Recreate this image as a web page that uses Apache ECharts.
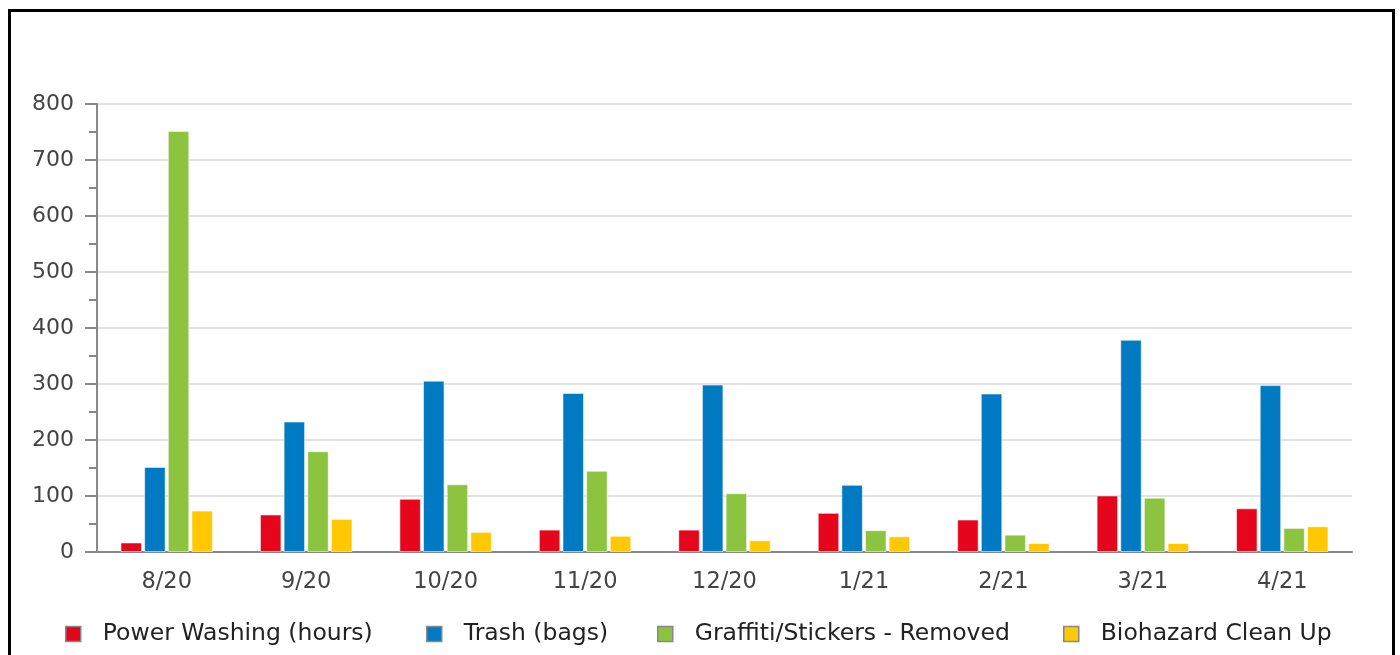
<!DOCTYPE html>
<html>
<head>
<meta charset="utf-8">
<script src="https://cdn.jsdelivr.net/npm/echarts@6/dist/echarts.min.js"></script>
<style>
html,body{margin:0;padding:0;background:#fff;}
#chart{width:1400px;height:655px;}
</style>
</head>
<body>
<div id="chart"></div>
<script>
const categories = ['8/20','9/20','10/20','11/20','12/20','1/21','2/21','3/21','4/21'];
const powerWashing = [17, 67, 95, 40, 40, 70, 58, 101, 78];
const trash = [152, 233, 306, 284, 299, 120, 283, 379, 298];
const graffiti = [752, 180, 121, 145, 105, 39, 31, 97, 43];
const biohazard = [74, 59, 36, 29, 21, 28, 16, 16, 46];
const seriesNames = ['Power Washing (hours)', 'Trash (bags)', 'Graffiti/Stickers - Removed', 'Biohazard Clean Up'];
const seriesColors = ['#E5061B', '#007AC3', '#8CC43F', '#FFC800'];
const yTicks = {min: 0, max: 800, interval: 100};

const chart = echarts.init(document.getElementById('chart'));
const FONT = 'DejaVu Sans';
const dataSets = [powerWashing, trash, graffiti, biohazard];
const legendLefts = [65, 426, 657, 1063];

chart.setOption({
  animation: false,
  textStyle: {fontFamily: FONT},
  graphic: [{
    type: 'rect',
    shape: {x: 9.5, y: 10.5, width: 1384, height: 700},
    style: {fill: 'none', stroke: '#000', lineWidth: 3},
    silent: true, z: 100
  }],
  grid: {left: 97, right: 48, top: 104, bottom: 103, containLabel: false},
  legend: seriesNames.map((n, i) => ({
    top: 622,
    left: legendLefts[i],
    padding: 0,
    itemWidth: 15,
    itemHeight: 15,
    icon: 'rect',
    itemStyle: {borderColor: '#888', borderWidth: 1.5},
    textStyle: {fontFamily: FONT, fontSize: 23.5, color: '#222', padding: [0, 0, 0, 17]},
    data: [n]
  })),
  xAxis: {
    type: 'category',
    data: categories,
    axisLine: {lineStyle: {color: '#888', width: 2}},
    axisTick: {show: false},
    axisLabel: {fontFamily: FONT, fontSize: 22.5, color: '#444', margin: 19}
  },
  yAxis: {
    type: 'value',
    min: yTicks.min, max: yTicks.max, interval: yTicks.interval,
    axisLine: {show: true, lineStyle: {color: '#888', width: 2}},
    axisTick: {show: true, length: 12, lineStyle: {color: '#888', width: 2}},
    minorTick: {show: true, splitNumber: 2, length: 8, lineStyle: {color: '#888', width: 2}},
    splitLine: {lineStyle: {color: '#e2e2e2', width: 2}},
    axisLabel: {fontFamily: FONT, fontSize: 22, color: '#444', margin: 23}
  },
  series: seriesNames.map((name, i) => ({
    name: name,
    type: 'bar',
    data: dataSets[i],
    barWidth: 21.5,
    barGap: '10%',
    itemStyle: {color: seriesColors[i], borderColor: 'rgba(255,255,255,0.55)', borderWidth: 1}
  }))
});
</script>
</body>
</html>
